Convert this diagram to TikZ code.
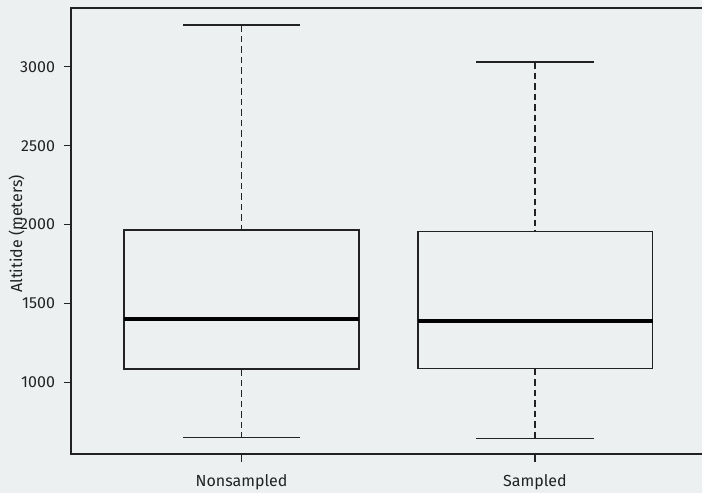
\documentclass[tikz,border=0pt]{standalone}
\usepackage{fontspec}
\setmainfont{Fira Sans}
\usepackage{xcolor}
\definecolor{bgclouds}{HTML}{ECF0F1}
\definecolor{inkline}{HTML}{222222}
\usetikzlibrary{positioning}

\begin{document}
\begin{tikzpicture}[x=1pt, y=-1pt, line width=1.1pt, color=inkline,
    whisker/.style={dash pattern=on 6.5pt off 4pt},
    medianline/.style={line width=4.2pt, black},
    ticklabel/.style={font=\fontsize{16}{19}\selectfont, text=inkline, inner sep=0pt}]
    % background and fixed size
    \fill[bgclouds] (0,0) rectangle (702,493);
    \useasboundingbox (0,0) rectangle (702,493);

    % frame (right side runs past the edge)
    \draw (702,8) -- (71,8) -- (71,454) -- (702,454);

    % y axis ticks
    \foreach \yv/\lab in {66.7/3000, 145.7/2500, 224.5/2000, 303.3/1500, 382.3/1000} {
        \draw (64,\yv) -- (71,\yv);
        \node[ticklabel, anchor=east] (ytick\lab) at (55.5,\yv) {\lab};
    }
    \node[ticklabel, rotate=90] (ylabel) at (16.5,234) {Altitide (meters)};

    % box: Nonsampled
    \draw[whisker] (241.5,25) -- (241.5,230);
    \draw[whisker] (241.5,369) -- (241.5,437.7);
    \draw (183,25) -- (300,25);
    \draw (183,437.7) -- (300,437.7);
    \draw (124,230) rectangle (359,369);
    \draw[medianline] (124,319) -- (359,319);

    % box: Sampled
    \draw[whisker] (535,62) -- (535,231.7);
    \draw[whisker] (535,368.5) -- (535,438.3);
    \draw (476,62) -- (594,62);
    \draw (476,438.3) -- (594,438.3);
    \draw (418,231.7) rectangle (652.5,368.5);
    \draw[medianline] (418,321) -- (652.5,321);

    % x axis ticks and labels
    \draw (241.5,454) -- (241.5,461.5);
    \draw (535,454) -- (535,461.5);
    \node[ticklabel] (xnon) at (241.5,482) {Nonsampled};
    \node[ticklabel] (xsam) at (535,482) {Sampled};
\end{tikzpicture}
\end{document}
